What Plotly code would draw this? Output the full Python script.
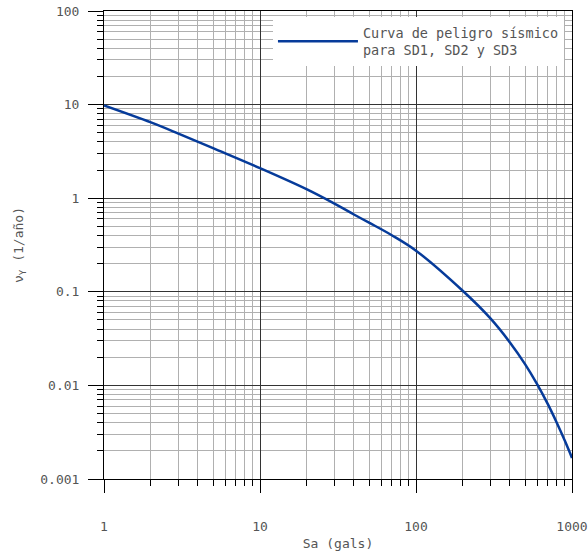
import plotly.graph_objects as go

# Data
sa_gals = [1, 2, 3, 5, 10, 20, 30, 40, 50, 70, 100, 200, 300, 400, 500, 600, 700, 800, 900, 1000]
nu_rate = [9.8, 6.45, 4.9, 3.42, 2.09, 1.24, 0.875, 0.67, 0.548, 0.402, 0.275, 0.102, 0.052, 0.0288,
           0.0169, 0.0102, 0.0063, 0.00397, 0.00256, 0.00168]

x_tickvals = [1, 10, 100, 1000]
x_ticktext = ["1", "10", "100", "1000"]
y_tickvals = [0.001, 0.01, 0.1, 1, 10, 100]
y_ticktext = ["0.001", "0.01", "0.1", "1", "10", "100"]

series_name = "Curva de peligro sísmico<br>para SD1, SD2 y SD3"

FONT = "DejaVu Sans Mono"
TXT = "#555555"

fig = go.Figure()
fig.add_trace(go.Scatter(
    x=sa_gals, y=nu_rate, mode="lines", name=series_name,
    line=dict(color="#063b9a", width=2.5, shape="spline", smoothing=1),
))

common = dict(
    type="log", showline=True, mirror=True, linecolor="#000000", linewidth=1,
    showgrid=True, gridcolor="#333333", gridwidth=1,
    ticks="outside", tickcolor="#000000", tickwidth=1,
    tickfont=dict(family=FONT, size=13, color=TXT),
    zeroline=False, automargin=False,
    minor=dict(ticks="outside", ticklen=6, tickcolor="#000000", tickwidth=1,
               showgrid=True, gridcolor="#b0b0b0", gridwidth=1, dtick="D1"),
)

fig.update_xaxes(
    **common, range=[0, 3], tickvals=x_tickvals, ticktext=x_ticktext, ticklen=13,
    ticklabelstandoff=22,
    title=dict(text="Sa (gals)", font=dict(family=FONT, size=13, color=TXT), standoff=6),
)
fig.update_yaxes(
    **common, range=[-3, 2], tickvals=y_tickvals, ticktext=y_ticktext, ticklen=15,
    ticklabelstandoff=6,
    title=dict(text="ν<sub>Y</sub> (1/año)", font=dict(family=FONT, size=13, color=TXT), standoff=13),
)

fig.update_layout(
    width=588, height=553,
    margin=dict(l=104, r=16, t=11, b=74),
    paper_bgcolor="white", plot_bgcolor="white",
    showlegend=True,
    legend=dict(
        x=0.361, y=0.987, xanchor="left", yanchor="top",
        bgcolor="white", borderwidth=0,
        font=dict(family=FONT, size=13.5, color=TXT),
        itemwidth=80,
    ),
)

fig.write_html("out.html")
